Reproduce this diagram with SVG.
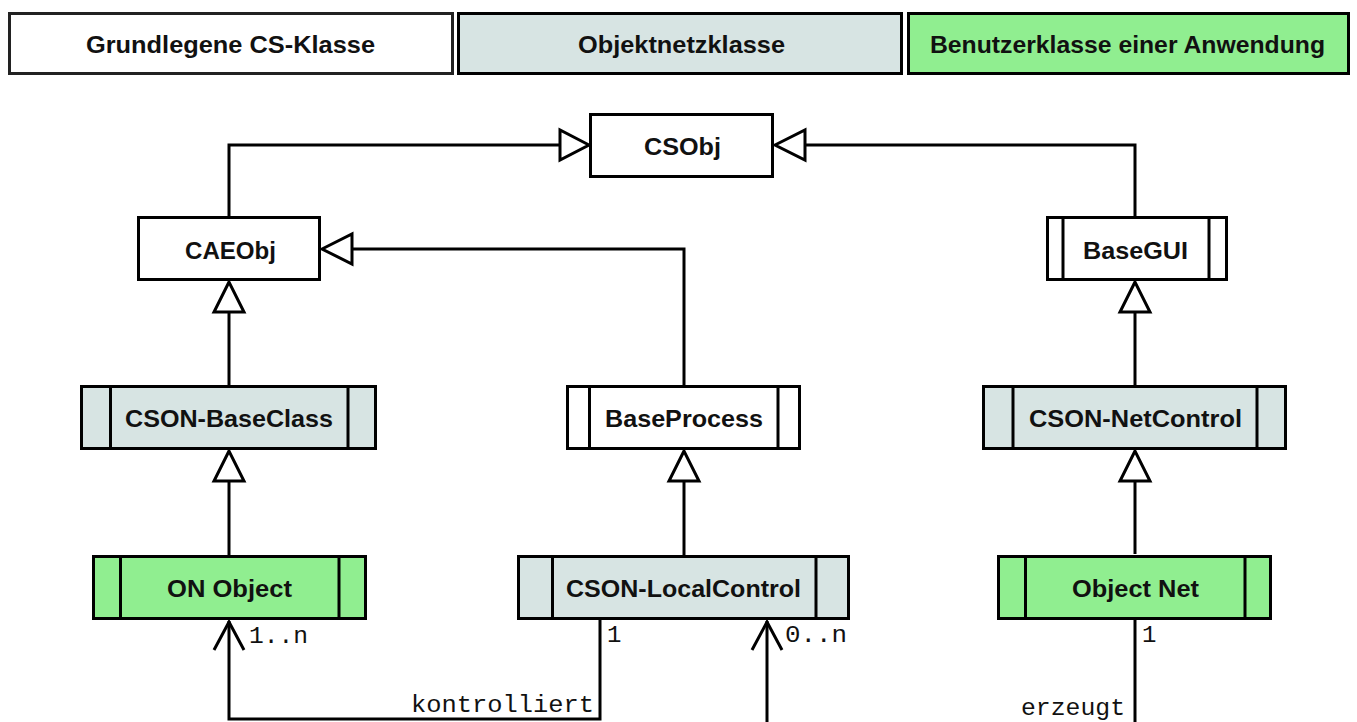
<svg xmlns="http://www.w3.org/2000/svg" width="1357" height="722" viewBox="0 0 1357 722">
<style>
.box{stroke:#000;stroke-width:3}
.w{fill:#fff}
.g{fill:#d7e4e3}
.gr{fill:#90ee90}
.bar{stroke:#000;stroke-width:3}
.t{font-family:"Liberation Sans",Arial,sans-serif;font-weight:bold;font-size:24px;fill:#111;text-anchor:start}
.m{font-family:"Liberation Mono","Courier New",monospace;font-size:24px;fill:#111}
.ln{fill:none;stroke:#000;stroke-width:3}
.tri{fill:#fff;stroke:#000;stroke-width:3;stroke-linejoin:miter}
.open{fill:none;stroke:#000;stroke-width:3}
</style>
<rect width="1357" height="722" fill="#fff"/>
<g id="legend-cs">
<rect class="box w" x="9.5" y="13.5" width="443" height="60" style="stroke:#222"/>
<text class="t" x="86" y="53" textLength="289" lengthAdjust="spacingAndGlyphs">Grundlegene CS-Klasse</text>
</g>
<g id="legend-objektnetz">
<rect class="box g" x="458.5" y="13.5" width="443" height="60"/>
<text class="t" x="578" y="53" textLength="207" lengthAdjust="spacingAndGlyphs">Objektnetzklasse</text>
</g>
<g id="legend-benutzer">
<rect class="box gr" x="908.5" y="13.5" width="440" height="60"/>
<text class="t" x="930" y="53" textLength="395" lengthAdjust="spacingAndGlyphs">Benutzerklasse einer Anwendung</text>
</g>

<g id="connectors">
<path class="ln" d="M229,216 V145 H560"/>
<polygon class="tri" points="589,145 560,130 560,160"/>
<path class="ln" d="M1135,216 V145 H805"/>
<polygon class="tri" points="775,145 805,130 805,160"/>
<path class="ln" d="M684,385 V249 H352"/>
<polygon class="tri" points="322,249 352,234 352,264"/>
<path class="ln" d="M229,385 V312"/>
<polygon class="tri" points="229,282 214,312 244,312"/>
<path class="ln" d="M229,555 V481"/>
<polygon class="tri" points="229,451 214,481 244,481"/>
<path class="ln" d="M684,555 V481"/>
<polygon class="tri" points="684,451 669,481 699,481"/>
<path class="ln" d="M1135,554 V481"/>
<polygon class="tri" points="1135,451 1120,481 1150,481"/>
<path class="ln" d="M1135,385 V312"/>
<polygon class="tri" points="1135,282 1120,312 1150,312"/>
<path class="ln" d="M600,620 V719 H229 V621"/>
<polyline class="open" points="214,650 229,622 244,650"/>
<path class="ln" d="M767,722 V621"/>
<polyline class="open" points="752,650 767,622 782,650"/>
<path class="ln" d="M1135,619 V722"/>
<text class="m" x="249" y="643" textLength="59" lengthAdjust="spacingAndGlyphs">1..n</text>
<text class="m" x="607" y="642">1</text>
<text class="m" x="785" y="642" textLength="62" lengthAdjust="spacingAndGlyphs">0..n</text>
<text class="m" x="1142" y="642">1</text>
<text class="m" x="411" y="712" textLength="183" lengthAdjust="spacingAndGlyphs">kontrolliert</text>
<text class="m" x="1021" y="715" textLength="104" lengthAdjust="spacingAndGlyphs">erzeugt</text>
</g>

<g id="CSObj">
<rect class="box w" x="590.5" y="114.5" width="182" height="62"/>
<text class="t" x="644" y="155" textLength="77" lengthAdjust="spacingAndGlyphs">CSObj</text>
</g>
<g id="CAEObj">
<rect class="box w" x="138.5" y="217.5" width="181" height="62"/>
<text class="t" x="185" y="259" textLength="91" lengthAdjust="spacingAndGlyphs">CAEObj</text>
</g>
<g id="BaseGUI">
<rect class="box w" x="1047.5" y="217.5" width="179" height="62"/>
<line class="bar" x1="1063" y1="217.5" x2="1063" y2="279.5"/>
<line class="bar" x1="1209" y1="217.5" x2="1209" y2="279.5"/>
<text class="t" x="1083" y="259" textLength="105" lengthAdjust="spacingAndGlyphs">BaseGUI</text>
</g>
<g id="CSON-BaseClass">
<rect class="box g" x="81.5" y="386.5" width="294" height="62"/>
<line class="bar" x1="110.5" y1="386.5" x2="110.5" y2="448.5"/>
<line class="bar" x1="348" y1="386.5" x2="348" y2="448.5"/>
<text class="t" x="125" y="427" textLength="208" lengthAdjust="spacingAndGlyphs">CSON-BaseClass</text>
</g>
<g id="BaseProcess">
<rect class="box w" x="567.5" y="386.5" width="232" height="62"/>
<line class="bar" x1="589.5" y1="386.5" x2="589.5" y2="448.5"/>
<line class="bar" x1="778" y1="386.5" x2="778" y2="448.5"/>
<text class="t" x="605" y="427" textLength="158" lengthAdjust="spacingAndGlyphs">BaseProcess</text>
</g>
<g id="CSON-NetControl">
<rect class="box g" x="983.5" y="386.5" width="302" height="62"/>
<line class="bar" x1="1013" y1="386.5" x2="1013" y2="448.5"/>
<line class="bar" x1="1257" y1="386.5" x2="1257" y2="448.5"/>
<text class="t" x="1029" y="427" textLength="213" lengthAdjust="spacingAndGlyphs">CSON-NetControl</text>
</g>
<g id="ON-Object">
<rect class="box gr" x="93.5" y="556.5" width="272" height="62"/>
<line class="bar" x1="120.5" y1="556.5" x2="120.5" y2="618.5"/>
<line class="bar" x1="339" y1="556.5" x2="339" y2="618.5"/>
<text class="t" x="167" y="597" textLength="125" lengthAdjust="spacingAndGlyphs">ON Object</text>
</g>
<g id="CSON-LocalControl">
<rect class="box g" x="518.5" y="556.5" width="330" height="62"/>
<line class="bar" x1="552.5" y1="556.5" x2="552.5" y2="618.5"/>
<line class="bar" x1="816" y1="556.5" x2="816" y2="618.5"/>
<text class="t" x="566" y="597" textLength="235" lengthAdjust="spacingAndGlyphs">CSON-LocalControl</text>
</g>
<g id="Object-Net">
<rect class="box gr" x="998.5" y="556.5" width="272" height="62"/>
<line class="bar" x1="1025.5" y1="556.5" x2="1025.5" y2="618.5"/>
<line class="bar" x1="1245" y1="556.5" x2="1245" y2="618.5"/>
<text class="t" x="1072" y="597" textLength="127" lengthAdjust="spacingAndGlyphs">Object Net</text>
</g>
</svg>
